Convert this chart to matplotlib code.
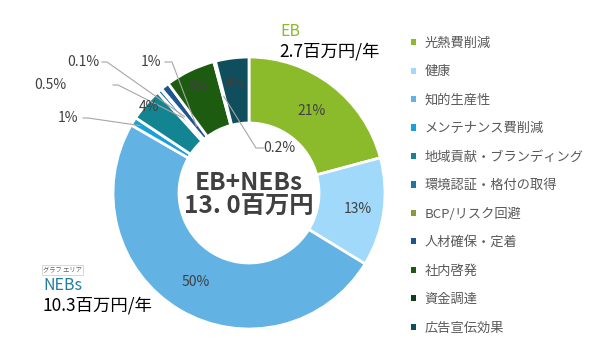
import matplotlib.pyplot as plt
import numpy as np
from matplotlib.patches import Patch

plt.rcParams['font.family'] = ['Noto Sans CJK JP', 'DejaVu Sans']

categories = ['光熱費削減', '健康', '知的生産性', 'メンテナンス費削減', '地域貢献・ブランディング',
              '環境認証・格付の取得', 'BCP/リスク回避', '人材確保・定着', '社内啓発', '資金調達', '広告宣伝効果']
shares = [21, 13, 50, 1, 4, 0.5, 0.1, 1, 6, 0.2, 4]
pct_labels = ['21%', '13%', '50%', '1%', '4%', '0.5%', '0.1%', '1%', '6%', '0.2%', '4%']
colors = ['#8bbb2b', '#a0d9fa', '#62b2e3', '#1b9fd8', '#138592', '#1f74a6',
          '#8f963c', '#1e5590', '#1d5c10', '#133d20', '#0f4e5c']
eb_total = 2.7
nebs_total = 10.3
grand_total = '13. 0'

W_PX, H_PX = 590, 362
fig = plt.figure(figsize=(W_PX / 100, H_PX / 100), dpi=100)
ax = fig.add_axes([0, 0, 1, 1])

cx, cy, R, ring = 249, H_PX - 193, 136, 66
wedges, _ = ax.pie(shares, colors=colors, startangle=90, counterclock=False,
                   center=(cx, cy), radius=R,
                   wedgeprops=dict(width=ring, edgecolor='white', linewidth=2))
ax.set_xlim(0, W_PX)
ax.set_ylim(0, H_PX)
ax.axis('off')


def at(w, r):
    a = np.deg2rad((w.theta1 + w.theta2) / 2)
    return cx + r * np.cos(a), cy + r * np.sin(a)


# labels inside the ring (index -> radius)
inner = {0: 103, 1: 110, 2: 104, 4: 132, 8: 118, 10: 110}
for i, r in inner.items():
    x, y = at(wedges[i], r)
    ax.text(x, y, pct_labels[i], ha='center', va='center', fontsize=10, color='#404040')

# labels outside with leader lines: index -> (text x, text y, line start x, stub end x, radius on wedge)
outer = {3: (68, 118, 83, 88, 128),
         5: (50, 85, 113, 118, 100),
         6: (83, 62, 102, 107, 100),
         7: (151, 62, 165, 172, 85),
         9: (279, 148, 264, 256, 100)}
for i, (tx, ty, lx0, lx1, r) in outer.items():
    ax.text(tx, H_PX - ty, pct_labels[i], ha='center', va='center', fontsize=10, color='#404040')
    ex, ey = at(wedges[i], r)
    ax.plot([lx0, lx1, ex], [H_PX - ty, H_PX - ty, ey], color='#a6a6a6', lw=0.8)

# center total
ax.text(cx, H_PX - 183, 'EB+NEBs', ha='center', va='center', fontsize=17.5,
        fontweight='bold', color='#404040')
ax.text(cx, H_PX - 207, grand_total + '百万円', ha='center', va='center', fontsize=17.5,
        fontweight='bold', color='#404040')

# EB / NEBs annotations
ax.text(280, H_PX - 31, 'EB', ha='left', va='center', fontsize=11.5, color='#8bbb2b')
ax.text(279, H_PX - 51, f'{eb_total}百万円/年', ha='left', va='center', fontsize=12.5, color='black')
ax.text(43, H_PX - 286, 'NEBs', ha='left', va='center', fontsize=11.5, color='#1f7ea1')
ax.text(42, H_PX - 306, f'{nebs_total}百万円/年', ha='left', va='center', fontsize=12.5, color='black')
ax.text(43, H_PX - 270, 'グラフ エリア', ha='left', va='center', fontsize=4.5, color='#606060',
        bbox=dict(boxstyle='square,pad=0.2', fc='white', ec='#c8c8c8', lw=0.5))

handles = [Patch(facecolor=c, edgecolor='none') for c in colors]
fig.legend(handles, categories, loc='upper left', bbox_to_anchor=(411 / W_PX, 1 - 37 / H_PX),
           frameon=False, fontsize=9.5, handlelength=0.35, handleheight=0.35,
           handletextpad=0.7, labelspacing=1.17, labelcolor='#595959',
           borderaxespad=0, borderpad=0)

fig.savefig('out.png', dpi=100)
